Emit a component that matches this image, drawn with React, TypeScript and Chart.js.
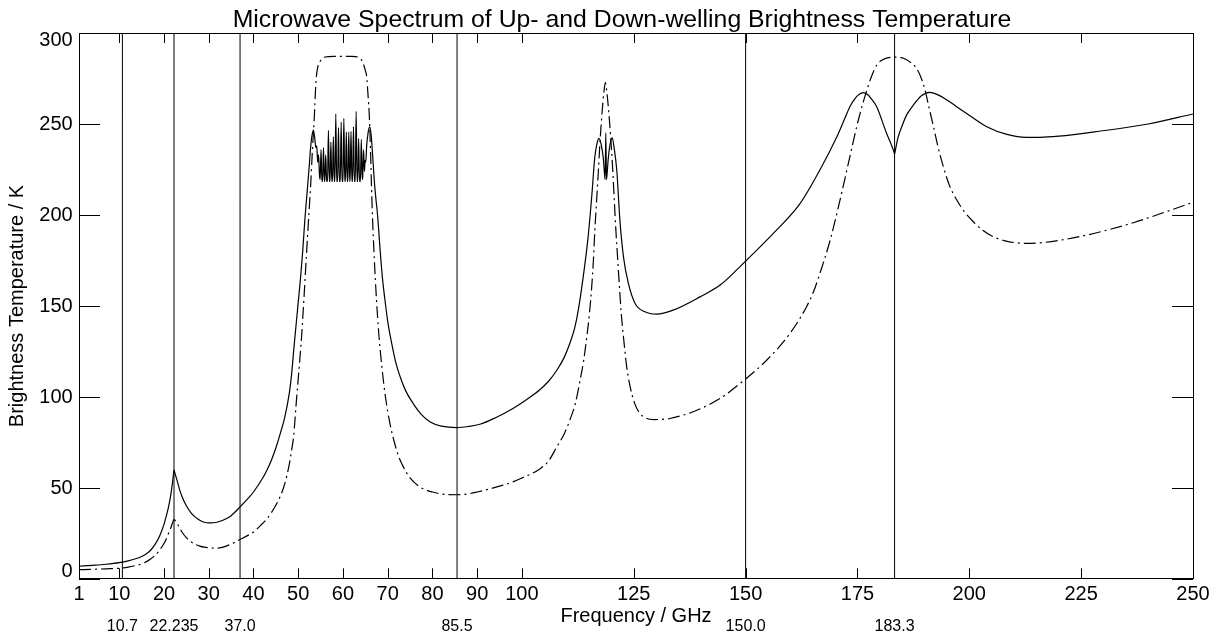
import React, { useEffect, useRef } from "react";
import { Chart, registerables } from "chart.js";

Chart.register(...registerables);

const FONT = '"Liberation Sans", Arial, Helvetica, sans-serif';

const chartTitle = "Microwave Spectrum of Up- and Down-welling Brightness Temperature";
const xAxisTitle = "Frequency / GHz";
const yAxisTitle = "Brightness Temperature / K";

const xTickValues = [1, 10, 20, 30, 40, 50, 60, 70, 80, 90, 100, 125, 150, 175, 200, 225, 250];
const yTickValues = [0, 50, 100, 150, 200, 250, 300];

const channelFreqs = [10.7, 22.235, 37.0, 85.5, 150.0, 183.3];
const channelLabels = ["10.7", "22.235", "37.0", "85.5", "150.0", "183.3"];

// solid curve: [frequency GHz, brightness temperature K]
const upwelling: [number, number][] = [
  [1, 7.0], [4, 7.5], [7, 8.1], [10, 9.0], [12, 10.0], [14, 11.4], [15, 12.4], [16, 13.8],
  [17, 15.8], [18, 19.0], [19, 23.5], [20, 30.0], [20.5, 34.5], [21, 39.5], [21.5, 46],
  [21.9, 53], [22.1, 57.3], [22.235, 59.8], [22.4, 58.6], [22.7, 56], [23, 53.5],
  [23.5, 49], [24, 45.5], [25, 40.2], [26, 36.5], [27, 34], [28, 32.3], [29, 31.2],
  [30, 30.8], [31, 30.9], [32, 31.3], [34, 33.2], [35, 34.8], [37, 39.6], [39, 44.8],
  [40, 47.8], [42, 55.2], [43, 59.8], [44, 65.3], [45, 72], [46, 80], [47, 89], [48, 102],
  [48.5, 112], [49, 126], [49.5, 139], [50, 152], [50.5, 165], [51, 180], [51.5, 198],
  [52, 213], [52.4, 225], [52.8, 238], [53.1, 244], [53.4, 246.7], [53.7, 242],
  [53.95, 237], [54.15, 238], [54.35, 229], [54.55, 233], [54.75, 222],
  [54.9, 219.5], [55.1, 236], [55.3, 218.5], [55.45, 218.5], [55.65, 237], [55.85, 218.5],
  [55.95, 218.5], [56.15, 233], [56.35, 218.5], [56.55, 218.5], [56.75, 246.5], [56.95, 218.5],
  [57.1, 218.5], [57.3, 240], [57.5, 218.5], [57.65, 218.5], [57.85, 243], [58.05, 218.5],
  [58.2, 218.5], [58.4, 255.5], [58.6, 218.5], [58.8, 218.5], [59.0, 248], [59.2, 218.5],
  [59.4, 218.5], [59.6, 251], [59.8, 218.5], [60.0, 218.5], [60.2, 253.1], [60.4, 218.5],
  [60.55, 218.5], [60.75, 245.5], [60.95, 218.5], [61.1, 218.5], [61.3, 245.5], [61.5, 218.5],
  [61.6, 218.5], [61.8, 246], [62.0, 218.5], [62.15, 218.5], [62.35, 248.5], [62.55, 218.5],
  [62.75, 218.5], [62.95, 257], [63.15, 218.5], [63.3, 218.5], [63.5, 242], [63.7, 218.5],
  [63.9, 218.5], [64.1, 241.5], [64.3, 219.5], [64.4, 220.5], [64.6, 236], [64.8, 224],
  [64.95, 230], [65.1, 229], [65.3, 238], [65.5, 243], [65.75, 247], [66.0, 248.5],
  [66.3, 244], [66.6, 234], [67.0, 219], [67.4, 208], [67.7, 201], [68.3, 181],
  [68.8, 166], [69.4, 153], [70.1, 140], [70.9, 129.4], [71.8, 119], [72.8, 111],
  [74, 103.5], [75.7, 96.4], [77.5, 90.5], [79.5, 86.3], [82, 84], [85.4, 83.2], [88, 83.8],
  [90.6, 85], [94, 88.5], [98, 93.7], [101, 98.5], [104, 104], [106, 108.8], [107.8, 114.7],
  [109.4, 121.5], [110.7, 129.4], [111.8, 138], [112.6, 147.7], [113.7, 166], [114.8, 188],
  [115.6, 210], [116.3, 232], [116.8, 239.5], [117.2, 242.1], [117.7, 239], [118.2, 231],
  [118.45, 223], [118.6, 219.5], [118.75, 245], [118.9, 219.5], [119.05, 223],
  [119.3, 231], [119.8, 240], [120.2, 242.4], [120.6, 237], [121.2, 224.7], [121.9, 197.2],
  [122.7, 177], [123.8, 162.4], [125.3, 151.4], [127.5, 146.8], [130.1, 145.5],
  [133.8, 147.7], [139.8, 155], [144.3, 161.5], [148.7, 171.5], [152, 179.5],
  [156.2, 189.9], [162.2, 206.4], [166.6, 224.7], [170.4, 243], [172, 252],
  [173.3, 259.5], [174.4, 263.8], [175.4, 266.3], [176.3, 267.2], [177.2, 266.3],
  [178.2, 263.5], [179.3, 259.5], [181.5, 244.9],
  [182.6, 238.5], [183.15, 234.6], [183.3, 233.5], [183.45, 235.2], [184, 242],
  [184.9, 248.5], [186, 255], [187.5, 260.4], [189.3, 265.5], [191.1, 267.4], [193, 266],
  [195, 263.2], [197, 259.8], [199.4, 255.8], [203.9, 248.5], [208.4, 244.3],
  [212.8, 242.7], [215.8, 242.7], [220, 243.3], [229, 246], [240, 250], [250, 255.5],
];

// dash-dot curve: [frequency GHz, brightness temperature K]
const downwelling: [number, number][] = [
  [1, 5.1], [4, 5.3], [7, 5.6], [10, 5.9], [12, 6.5], [14, 7.6], [15, 8.3], [16, 9.4],
  [17, 11], [18, 13], [19, 15.8], [20, 19.5], [20.5, 22], [21, 25], [21.5, 28], [22, 31.5],
  [22.235, 32.6], [22.6, 31.8], [23, 30.2], [23.5, 28], [24, 25.8], [25, 22.7], [26, 20.5],
  [27, 19], [28, 18.1], [29, 17.5], [30, 17.2], [31, 17.0], [32, 17.0], [33, 17.4],
  [35, 19.2], [37, 21.7], [39, 24.3], [40, 25.8], [42, 30.5], [43, 33], [44, 36.5],
  [45, 40.5], [46, 45.5], [47, 52.4], [48, 63], [48.5, 70.5], [49, 79], [49.5, 95],
  [50, 110], [50.5, 125], [50.8, 135], [51.3, 155], [51.9, 180.7], [52.4, 201],
  [52.8, 217.4], [53.2, 237], [53.6, 254], [53.85, 268], [54.1, 277], [54.4, 281.5],
  [54.8, 284], [55.3, 285.8], [56, 286.8], [58, 287.2], [60, 287.2], [62, 287.2],
  [63.8, 286.2], [64.3, 284.5], [64.7, 282], [65.0, 279.5], [65.3, 276], [65.6, 266],
  [65.9, 254], [66.2, 232], [66.4, 213.7], [66.6, 199], [67, 176], [67.5, 153.2],
  [68, 135], [68.7, 116.5], [69.5, 100], [70.5, 85.4], [71.5, 75], [72.5, 67],
  [73.5, 61.6], [75, 55.5], [77.2, 50.6], [80, 47.8], [83.2, 46.4], [85.5, 46.3],
  [88, 46.8], [90, 47.8], [94.4, 50.6], [97, 52.5], [100, 55.5], [104, 60.5], [106, 65],
  [107.8, 72.6], [109.5, 80], [110.7, 87.2], [112, 97], [113, 109.2], [113.8, 120],
  [114.5, 133], [115.1, 146], [115.6, 160.5], [116.0, 176], [116.3, 191.7], [116.7, 208],
  [117.1, 224.7], [117.5, 242], [117.9, 255.8], [118.3, 267], [118.65, 272.7],
  [119.0, 267], [119.4, 257], [119.8, 244], [120.3, 224.7], [120.65, 208], [121, 191.7],
  [121.4, 176], [121.8, 160.5], [122.2, 146], [122.7, 133], [123.4, 117], [124.2, 105.6],
  [125.2, 96.5], [126.4, 90.9], [127.8, 88.3], [129.4, 87.6], [131, 87.7], [133.1, 88.2],
  [136, 90], [139.1, 92.7], [144.3, 99.2], [149.5, 108.9], [154.7, 120.2],
  [159.9, 134.9], [163.6, 149.5], [165.2, 158], [166.6, 167.9], [168.9, 186.2],
  [171.1, 208.2], [173.3, 232], [175.2, 252.2], [177.1, 268.7], [178.2, 276.5],
  [179.3, 282.4], [180.8, 285.5], [182.3, 286.6], [184, 286.8], [185.3, 286.1],
  [186.8, 284], [188.2, 280.6], [189.2, 275.5], [190.1, 268.7], [191, 259],
  [192, 248.5], [193, 237.5], [194.2, 226.5], [195.6, 216], [197.2, 208.2], [199, 201.5],
  [200.9, 196.3], [203, 191.6], [205.4, 188], [208, 185.8], [210.6, 184.7], [213, 184.4],
  [215.8, 184.7], [220, 186], [225, 188.3], [230, 191.2], [237, 196], [244, 201.8],
  [250, 207],
];

const decorPlugin = {
  id: "decor",
  afterDraw(chart: any) {
    const { ctx, chartArea: a, scales } = chart;
    const xs = scales.x;
    const ys = scales.y;
    ctx.save();
    ctx.strokeStyle = "#000";
    ctx.fillStyle = "#000";
    ctx.lineWidth = 1;

    // frame
    ctx.strokeRect(a.left + 0.5, a.top + 0.5, a.right - a.left, a.bottom - a.top - 1);

    // x ticks (bottom and top, inward)
    ctx.beginPath();
    xTickValues.forEach((v) => {
      const px = Math.round(xs.getPixelForValue(v)) + 0.5;
      ctx.moveTo(px, a.bottom);
      ctx.lineTo(px, a.bottom - 10.7);
      ctx.moveTo(px, a.top);
      ctx.lineTo(px, a.top + 10);
    });
    // y ticks (left and right, inward)
    yTickValues.forEach((v) => {
      const py = Math.round(ys.getPixelForValue(v)) + 0.5;
      ctx.moveTo(a.left, py);
      ctx.lineTo(a.left + 21, py);
      ctx.moveTo(a.right, py);
      ctx.lineTo(a.right - 21, py);
    });
    ctx.stroke();

    // channel lines
    ctx.beginPath();
    channelFreqs.forEach((f) => {
      const px = xs.getPixelForValue(f);
      ctx.moveTo(px, a.top);
      ctx.lineTo(px, a.bottom);
    });
    ctx.stroke();

    // y tick labels (kept inside the axis extent)
    ctx.font = `20px ${FONT}`;
    ctx.textAlign = "right";
    ctx.textBaseline = "middle";
    yTickValues.forEach((v) => {
      const py = ys.getPixelForValue(v);
      const cy = Math.min(Math.max(py, a.top + 7.5), a.bottom - 7.5);
      ctx.fillText(String(v), a.left - 6.3, cy);
    });

    // channel labels
    ctx.font = `16px ${FONT}`;
    ctx.textAlign = "center";
    ctx.textBaseline = "alphabetic";
    channelFreqs.forEach((f, i) => {
      ctx.fillText(channelLabels[i], xs.getPixelForValue(f), 630.5);
    });

    // title
    ctx.font = `24.8px ${FONT}`;
    ctx.textAlign = "center";
    ctx.textBaseline = "alphabetic";
    ctx.fillText(chartTitle, 622, 26.7);

    ctx.restore();
  },
};

export default function App() {
  const ref = useRef<HTMLCanvasElement>(null);
  useEffect(() => {
    const canvas = ref.current;
    if (!canvas) return;
    const chart = new Chart(canvas, {
      type: "line",
      data: {
        datasets: [
          {
            label: "Upwelling",
            data: upwelling.map(([x, y]) => ({ x, y })),
            borderColor: "#000",
            borderWidth: 1.2,
            pointRadius: 0,
            cubicInterpolationMode: "monotone",
            fill: false,
          },
          {
            label: "Downwelling",
            data: downwelling.map(([x, y]) => ({ x, y })),
            borderColor: "#000",
            borderWidth: 1.2,
            borderDash: [12, 4, 2, 4],
            pointRadius: 0,
            cubicInterpolationMode: "monotone",
            fill: false,
          },
        ],
      },
      options: {
        animation: false,
        responsive: false,
        devicePixelRatio: 1,
        layout: { padding: { top: 33, right: 33, left: 0, bottom: 0 } },
        plugins: {
          legend: { display: false },
          title: { display: false },
          tooltip: { enabled: false },
        },
        scales: {
          x: {
            type: "linear",
            min: 1,
            max: 250,
            afterBuildTicks: (s: any) => {
              s.ticks = xTickValues.map((v) => ({ value: v }));
            },
            afterFit: (s: any) => {
              s.height = 56;
            },
            grid: { display: false, drawTicks: false },
            border: { display: false },
            ticks: {
              font: { family: FONT, size: 20 },
              color: "#000",
              padding: 3,
              maxRotation: 0,
              autoSkip: false,
              callback: (v: any) => String(v),
            },
            title: {
              display: true,
              text: xAxisTitle,
              font: { family: FONT, size: 20 },
              color: "#000",
              padding: { top: 0, bottom: 6.6 },
            },
          },
          y: {
            type: "linear",
            min: 0,
            max: 300,
            afterBuildTicks: (s: any) => {
              s.ticks = yTickValues.map((v) => ({ value: v }));
            },
            afterFit: (s: any) => {
              s.width = 79;
            },
            grid: { display: false, drawTicks: false },
            border: { display: false },
            ticks: { display: false },
            title: {
              display: true,
              text: yAxisTitle,
              font: { family: FONT, size: 20 },
              color: "#000",
              padding: { top: 5.6, bottom: 0 },
            },
          },
        },
      } as any,
      plugins: [decorPlugin],
    });
    return () => chart.destroy();
  }, []);
  return (
    <div style={{ position: "absolute", left: 0, top: 0, width: 1226, height: 635, background: "#fff" }}>
      <canvas ref={ref} width={1226} height={635} style={{ display: "block", width: 1226, height: 635 }} />
    </div>
  );
}
